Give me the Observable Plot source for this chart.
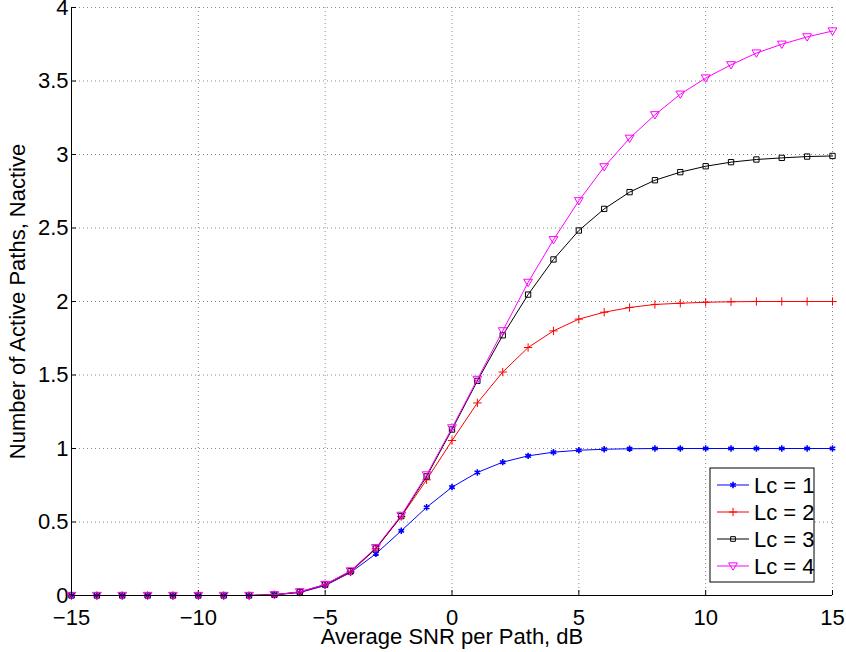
<!DOCTYPE html>
<html>
<head>
<meta charset="utf-8">
<script src="https://cdn.jsdelivr.net/npm/d3@7"></script>
<script src="https://cdn.jsdelivr.net/npm/@observablehq/plot@0.6"></script>
<style>
  body { margin: 0; background: #fff; }
  #chart { position: relative; width: 846px; height: 652px; }
</style>
</head>
<body>
<div id="chart"></div>
<script>
// Average SNR per path (dB)
const snr = [-15, -14, -13, -12, -11, -10, -9, -8, -7, -6, -5, -4, -3, -2, -1, 0,
             1, 2, 3, 4, 5, 6, 7, 8, 9, 10, 11, 12, 13, 14, 15];

// Mean number of active paths for each number of combined paths Lc
const lc1 = [0, 0, 0, 0, 0, 0, 0, 0, 0.005, 0.02, 0.068, 0.156, 0.284, 0.44, 0.60, 0.737,
             0.837, 0.907, 0.95, 0.975, 0.988, 0.995, 0.998, 1, 1, 1, 1, 1, 1, 1, 1];
const lc2 = [0, 0, 0, 0, 0, 0, 0, 0, 0.005, 0.022, 0.072, 0.16, 0.318, 0.537, 0.787, 1.054,
             1.31, 1.52, 1.687, 1.80, 1.88, 1.927, 1.959, 1.98, 1.988, 1.995, 1.998, 2, 2, 2, 2];
const lc3 = [0, 0, 0, 0, 0, 0, 0, 0, 0.005, 0.024, 0.074, 0.165, 0.32, 0.54, 0.81, 1.129,
             1.46, 1.77, 2.047, 2.286, 2.483, 2.63, 2.744, 2.825, 2.88, 2.92, 2.948, 2.966, 2.977, 2.986, 2.99];
const lc4 = [0, 0, 0, 0, 0, 0, 0, 0, 0.005, 0.025, 0.075, 0.167, 0.325, 0.545, 0.82, 1.14,
             1.47, 1.80, 2.13, 2.42, 2.685, 2.916, 3.11, 3.27, 3.41, 3.52, 3.61, 3.69, 3.75, 3.80, 3.84];

const seriesNames = ["Lc = 1", "Lc = 2", "Lc = 3", "Lc = 4"];
const seriesColors = ["#0000ff", "#ff0000", "#000000", "#ff00ff"];

// Tick values
const xTicks = [-15, -10, -5, 0, 5, 10, 15];
const yTicks = [0, 0.5, 1, 1.5, 2, 2.5, 3, 3.5, 4];
const yTickLabels = ["0", "0.5", "1", "1.5", "2", "2.5", "3", "3.5", "4"];

// Downward-pointing triangle symbol
const triangleDown = {
  draw(ctx, size) {
    const r = Math.sqrt(size / Math.PI);
    ctx.moveTo(-r * 1.05, -r * 0.75);
    ctx.lineTo(r * 1.05, -r * 0.75);
    ctx.lineTo(0, r * 1.0);
    ctx.closePath();
  }
};
const seriesSymbols = ["asterisk", "plus", "square", triangleDown];
const seriesR = [3.0, 2.8, 3.0, 4.2];
const seriesSW = [1.6, 1, 1, 1];

const rows = [lc1, lc2, lc3, lc4].flatMap((vals, i) =>
  vals.map((v, j) => ({snr: snr[j], n: v, s: i})));

const W = 846, H = 652;
const M = {top: 7, right: 14, bottom: 57, left: 71};
const innerW = W - M.left - M.right;
const innerH = H - M.top - M.bottom;
const font = "'Liberation Sans', Arial, Helvetica, sans-serif";

const marks = [
  Plot.gridX(xTicks, {stroke: "#8a8a8a", strokeOpacity: 1, strokeDasharray: "1,3"}),
  Plot.gridY(yTicks, {stroke: "#8a8a8a", strokeOpacity: 1, strokeDasharray: "1,3"}),
  Plot.axisX(xTicks, {
    tickSize: 0, tickPadding: 14, tickFormat: d => d < 0 ? "\u2212" + (-d) : String(d),
    label: "Average SNR per Path, dB", labelAnchor: "center", labelArrow: "none", labelOffset: 48
  }),
  Plot.axisY(yTicks, {
    tickSize: 0, tickPadding: 3, tickFormat: (d, i) => yTickLabels[i],
    label: "Number of Active Paths, Nactive", labelAnchor: "center", labelArrow: "none", labelOffset: 62
  }),
  // inward tick marks
  Plot.tickX(xTicks, {x: d => d, insetTop: innerH - 5, stroke: "#000"}),
  Plot.tickY(yTicks, {y: d => d, insetRight: innerW - 5, stroke: "#000"}),
];

for (let i = 0; i < 4; i++) {
  const data = rows.filter(d => d.s === i);
  marks.push(Plot.line(data, {x: "snr", y: "n", stroke: seriesColors[i], strokeWidth: 1}));
  marks.push(Plot.dot(data, {
    x: "snr", y: "n", symbol: () => seriesSymbols[i], r: seriesR[i],
    stroke: seriesColors[i], fill: "none", strokeWidth: seriesSW[i]
  }));
}
marks.push(Plot.ruleY([0], {stroke: "#000"}));
marks.push(Plot.ruleX([-15], {stroke: "#000"}));

const chart = Plot.plot({
  width: W, height: H,
  marginTop: M.top, marginRight: M.right, marginBottom: M.bottom, marginLeft: M.left,
  x: {domain: [-15, 15]},
  y: {domain: [0, 4]},
  style: {fontFamily: font, fontSize: "22px", color: "#000", background: "#fff", overflow: "visible"},
  marks
});

// Legend box drawn into the same SVG
const svg = d3.select(chart);
const lg = svg.append("g").attr("transform", "translate(710,468)")
  .style("font-family", font).style("font-size", "22px").attr("text-anchor", "start");
lg.append("rect").attr("width", 104).attr("height", 114)
  .attr("fill", "#fff").attr("stroke", "#000").attr("stroke-width", 1);
seriesNames.forEach((name, i) => {
  const y = 17 + i * 27;
  const color = seriesColors[i];
  lg.append("line").attr("x1", 7).attr("x2", 39).attr("y1", y).attr("y2", y)
    .attr("stroke", color).attr("stroke-width", 1);
  const sym = typeof seriesSymbols[i] === "string"
    ? {asterisk: d3.symbolAsterisk, plus: d3.symbolPlus, square: d3.symbolSquare2}[seriesSymbols[i]]
    : seriesSymbols[i];
  lg.append("path").attr("d", d3.symbol(sym, Math.PI * seriesR[i] * seriesR[i])())
    .attr("transform", `translate(23,${y})`)
    .attr("fill", "none").attr("stroke", color).attr("stroke-width", seriesSW[i]);
  lg.append("text").attr("x", 44).attr("y", y).attr("dy", "0.35em").attr("fill", "#000").text(name);
});

document.getElementById("chart").appendChild(chart);
</script>
</body>
</html>
